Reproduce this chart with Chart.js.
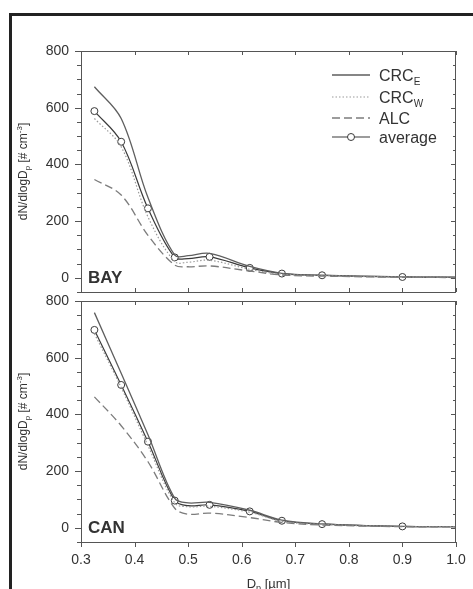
<!DOCTYPE html>
<html>
<head>
<meta charset="utf-8">
<script src="https://cdn.jsdelivr.net/npm/chart.js@4.4.1/dist/chart.umd.min.js"></script>
<style>
  body { margin: 0; background: #fff; }
  #wrap { position: relative; width: 473px; height: 589px; overflow: hidden; }
  #frame { position: absolute; left: 9px; top: 13px; width: 480px; height: 600px;
           border-top: 3px solid #222; border-left: 3px solid #222; }
  canvas { position: absolute; left: 0; }
</style>
</head>
<body>
<div id="wrap">
  <div id="frame"></div>
  <canvas id="bay" width="473" height="300" style="top:0"></canvas>
  <canvas id="can" width="473" height="299" style="top:290px"></canvas>
</div>
<script>
// particle diameter Dp [um]
const sizes = [0.325, 0.375, 0.425, 0.475, 0.5, 0.54, 0.615, 0.675, 0.75, 0.9, 1.0];
const markerOn = [1, 1, 1, 1, 0, 1, 1, 1, 1, 1, 0];

// BAY
const bayCrcE = [674, 562, 283, 80, 78, 86, 40, 16, 9, 3, 2];
const bayCrcW = [562, 462, 215, 57, 55, 62, 30, 13, 8, 3, 2];
const bayAlc  = [347, 292, 150, 45, 39, 42, 24, 10, 6, 2, 1];
const bayAvg  = [588, 480, 245, 72, 68, 74, 35, 15, 9, 3, 2];

// CAN
const canCrcE = [759, 545, 328, 104, 88, 90, 62, 27, 14, 5, 4];
const canCrcW = [685, 495, 290, 88, 74, 76, 55, 23, 12, 5, 4];
const canAlc  = [462, 360, 233, 69, 48, 52, 36, 19, 10, 4, 3];
const canAvg  = [698, 504, 304, 96, 78, 81, 58, 25, 13, 5, 4];

const xTicks = [0.3, 0.4, 0.5, 0.6, 0.7, 0.8, 0.9, 1.0];
const yTicks = [0, 200, 400, 600, 800];

const FONT = "'Liberation Sans', Arial, sans-serif";
const INK = '#333';

function pts(ys) {
  return sizes.map((x, i) => ({ x: x, y: ys[i] }));
}

function makeDatasets(e, w, a, avg) {
  return [
    { label: 'ALC', data: pts(a), borderColor: '#7c7c7c', borderWidth: 1.3, borderDash: [8, 4], pointRadius: 0 },
    { label: 'CRCW', data: pts(w), borderColor: '#9a9a9a', borderWidth: 1.2, borderDash: [1.5, 2], pointRadius: 0 },
    { label: 'CRCE', data: pts(e), borderColor: '#5e5e5e', borderWidth: 1.3, pointRadius: 0 },
    { label: 'average', data: pts(avg), borderColor: '#3a3a3a', borderWidth: 1.2,
      pointRadius: markerOn.map(m => m ? 3.5 : 0), pointBackgroundColor: '#fff',
      pointBorderColor: '#3a3a3a', pointBorderWidth: 1 }
  ];
}

// draw text made of parts with different size / baseline offset
function richText(ctx, parts, x, y, align) {
  let total = 0;
  parts.forEach(p => { ctx.font = p.size + 'px ' + FONT; total += ctx.measureText(p.t).width; });
  let cx = align === 'center' ? x - total / 2 : x;
  parts.forEach(p => {
    ctx.font = p.size + 'px ' + FONT;
    ctx.fillText(p.t, cx, y + (p.dy || 0));
    cx += ctx.measureText(p.t).width;
  });
}

const panelPlugin = {
  id: 'panel',
  afterDraw(chart, args, opts) {
    const { ctx, chartArea: a } = chart;
    const x = chart.scales.x, y = chart.scales.y;
    ctx.save();
    ctx.strokeStyle = '#555';
    ctx.lineWidth = 1;
    ctx.strokeRect(a.left + 0.5, a.top + 0.5, a.right - a.left - 1, a.bottom - a.top);
    ctx.beginPath();
    for (let v = -50; v <= 800; v += 50) {
      const py = Math.round(y.getPixelForValue(v)) + 0.5;
      const major = yTicks.includes(v);
      ctx.moveTo(a.left - (major ? 6 : 4), py); ctx.lineTo(a.left, py);
      ctx.moveTo(a.right - (major ? 5 : 3), py); ctx.lineTo(a.right, py);
    }
    xTicks.forEach(v => {
      const px = Math.round(x.getPixelForValue(v)) + 0.5;
      ctx.moveTo(px, a.top); ctx.lineTo(px, a.top + 4);
      if (opts.bottomAxis) { ctx.moveTo(px, a.bottom); ctx.lineTo(px, a.bottom + 5); }
      else { ctx.moveTo(px, a.bottom); ctx.lineTo(px, a.bottom - 4); }
    });
    ctx.stroke();

    ctx.fillStyle = INK;
    // panel name
    ctx.font = 'bold 17px ' + FONT;
    ctx.textAlign = 'left';
    ctx.textBaseline = 'alphabetic';
    ctx.fillText(opts.name, a.left + 7, y.getPixelForValue(0) + 5);

    // y title
    ctx.save();
    ctx.translate(27, (a.top + a.bottom) / 2);
    ctx.rotate(-Math.PI / 2);
    richText(ctx, [
      { t: 'dN/dlogD', size: 12 }, { t: 'p', size: 8, dy: 3 },
      { t: ' [# cm', size: 12 }, { t: '-3', size: 8, dy: -5 }, { t: ']', size: 12 }
    ], 0, 0, 'center');
    ctx.restore();

    if (opts.bottomAxis) {
      richText(ctx, [
        { t: 'D', size: 13 }, { t: 'p', size: 9, dy: 3 }, { t: ' [\u00b5m]', size: 13 }
      ], (a.left + a.right) / 2, a.bottom + 46, 'center');
    }

    if (opts.legend) {
      const lx0 = 332, lx1 = 370, tx = 379;
      const rows = [
        { y: 75, dash: [], color: '#5e5e5e', w: 1.3, parts: [{ t: 'CRC', size: 16 }, { t: 'E', size: 10, dy: 4 }] },
        { y: 97, dash: [1.5, 2], color: '#9a9a9a', w: 1.2, parts: [{ t: 'CRC', size: 16 }, { t: 'W', size: 10, dy: 4 }] },
        { y: 118, dash: [8, 4], color: '#7c7c7c', w: 1.3, parts: [{ t: 'ALC', size: 16 }] },
        { y: 137, dash: [], color: '#3a3a3a', w: 1.2, marker: true, parts: [{ t: 'average', size: 16 }] }
      ];
      rows.forEach(r => {
        ctx.save();
        ctx.strokeStyle = r.color;
        ctx.lineWidth = r.w;
        ctx.setLineDash(r.dash);
        ctx.beginPath();
        ctx.moveTo(lx0, r.y); ctx.lineTo(lx1, r.y);
        ctx.stroke();
        if (r.marker) {
          ctx.setLineDash([]);
          ctx.lineWidth = 1;
          ctx.fillStyle = '#fff';
          ctx.beginPath();
          ctx.arc((lx0 + lx1) / 2, r.y, 3.5, 0, Math.PI * 2);
          ctx.fill(); ctx.stroke();
        }
        ctx.restore();
        ctx.fillStyle = INK;
        richText(ctx, r.parts, tx, r.y + 5.5, 'left');
      });
    }
    ctx.restore();
  }
};

function makeChart(id, data, name, bottomAxis, legend) {
  return new Chart(document.getElementById(id), {
    type: 'line',
    data: { datasets: data },
    plugins: [panelPlugin],
    options: {
      responsive: false,
      animation: false,
      events: [],
      layout: {
        autoPadding: false,
        padding: bottomAxis ? { top: 11, right: 17, bottom: 0, left: 0 }
                            : { top: 51, right: 17, bottom: 8, left: 0 }
      },
      elements: { line: { tension: 0.35, fill: false } },
      scales: {
        x: {
          type: 'linear', min: 0.3, max: 1.0,
          display: bottomAxis,
          grid: { display: false, drawTicks: false },
          border: { display: false },
          afterBuildTicks: s => { s.ticks = xTicks.map(v => ({ value: v })); },
          ticks: { padding: 10, color: INK, font: { family: FONT, size: 14 },
                   maxRotation: 0, callback: v => v.toFixed(1) },
          afterFit: s => {
            s.height = bottomAxis ? 47 : 0;
            s.paddingLeft = 0; s.paddingRight = 0; s.paddingTop = 0; s.paddingBottom = 0;
          }
        },
        y: {
          type: 'linear', min: -50, max: 800,
          grid: { display: false, drawTicks: false },
          border: { display: false },
          afterBuildTicks: s => { s.ticks = yTicks.map(v => ({ value: v })); },
          ticks: { padding: 12, color: INK, font: { family: FONT, size: 14 } },
          afterFit: s => {
            s.width = 81;
            s.paddingLeft = 0; s.paddingRight = 0; s.paddingTop = 0; s.paddingBottom = 0;
          }
        }
      },
      plugins: {
        legend: { display: false },
        tooltip: { enabled: false },
        panel: { name: name, bottomAxis: bottomAxis, legend: legend }
      }
    }
  });
}

makeChart('bay', makeDatasets(bayCrcE, bayCrcW, bayAlc, bayAvg), 'BAY', false, true);
makeChart('can', makeDatasets(canCrcE, canCrcW, canAlc, canAvg), 'CAN', true, false);
</script>
</body>
</html>
